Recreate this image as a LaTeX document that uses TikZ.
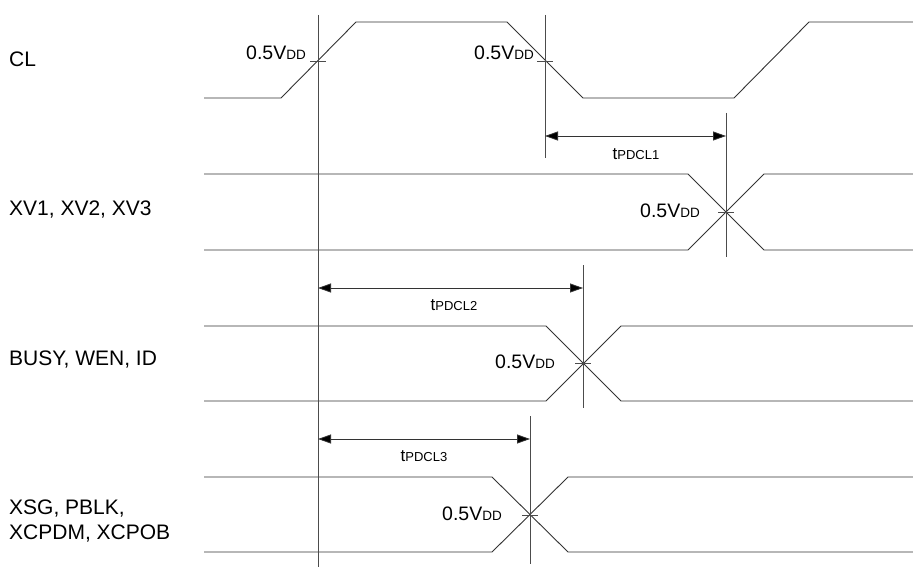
\documentclass[tikz,border=0pt]{standalone}
\usepackage{fontspec}
\setmainfont{Liberation Sans}
\usetikzlibrary{arrows.meta}
\tikzset{
  wave/.style={line width=0.9pt, draw=black!80},
  guide/.style={line width=0.9pt, draw=black!70},
  tick/.style={line width=0.8pt, draw=black!70},
  dim/.style={line width=0.8pt, draw=black!80, {Triangle[length=13pt,width=9pt,fill=black]}-{Triangle[length=13pt,width=9pt,fill=black]}},
  sig/.style={anchor=west, inner sep=0pt, font=\fontsize{21}{25}\selectfont, align=left},
  lvl/.style={anchor=east, inner sep=0pt, font=\fontsize{19.5}{22}\selectfont},
  tlab/.style={inner sep=0pt, font=\fontsize{17}{20}\selectfont},
}
\newcommand{\vdd}{0.5V{\fontsize{13.5}{15}\selectfont DD}}
\newcommand{\tpd}[1]{t{\fontsize{13}{15}\selectfont PDCL#1}}
\begin{document}
\begin{tikzpicture}[x=1pt,y=-1pt]
\useasboundingbox (0,0) rectangle (913,567);
% signal names
\node[sig] (nCL) at (9,59) {CL};
\node[sig] (nXV) at (9,210) {XV1, XV2, XV3};
\node[sig] (nBU) at (9,360) {BUSY, WEN, ID};
\node[sig] (nXS) at (9,521) {XSG, PBLK,\\XCPDM, XCPOB};
% CL waveform
\draw[wave] (204,98) -- (281,98) -- (356,22) -- (507,22) -- (583,98) -- (734,98) -- (809,22) -- (913,22);
% XV waveform
\draw[wave] (204,174) -- (688,174) -- (764,250) -- (913,250);
\draw[wave] (204,250) -- (688,250) -- (764,174) -- (913,174);
% BUSY waveform
\draw[wave] (204,326) -- (546,326) -- (621,401) -- (913,401);
\draw[wave] (204,401) -- (546,401) -- (621,326) -- (913,326);
% XSG waveform
\draw[wave] (204,477) -- (492,477) -- (568,552) -- (913,552);
\draw[wave] (204,552) -- (492,552) -- (568,477) -- (913,477);
% crossing points
\coordinate (c1) at (318,61);
\coordinate (c2) at (545,61);
\coordinate (c3) at (726,212);
\coordinate (c4) at (583,363);
\coordinate (c5) at (530,515);
% guide lines
\coordinate (g1t) at (318,15); \coordinate (g1b) at (318,567);
\coordinate (g2t) at (545,15); \coordinate (g2b) at (545,158);
\coordinate (g3t) at (726,113); \coordinate (g3b) at (726,257);
\coordinate (g4t) at (583,265); \coordinate (g4b) at (583,408);
\coordinate (g5t) at (530,416); \coordinate (g5b) at (530,564);
\draw[guide] (g1t) -- (g1b);
\draw[guide] (g2t) -- (g2b);
\draw[guide] (g3t) -- (g3b);
\draw[guide] (g4t) -- (g4b);
\draw[guide] (g5t) -- (g5b);
% ticks
\foreach \c in {c1,c2,c3,c4,c5}{\draw[tick] ([xshift=-8pt]\c) -- ([xshift=8pt]\c);}
% level labels
\node[lvl] (v1) at (306,53) {\vdd};
\node[lvl] (v2) at (534,53) {\vdd};
\node[lvl] (v3) at (700,211) {\vdd};
\node[lvl] (v4) at (555,362) {\vdd};
\node[lvl] (v5) at (502,514) {\vdd};
% dimension arrows
\coordinate (a1l) at (545,136); \coordinate (a1r) at (726,136);
\coordinate (a2l) at (318,288); \coordinate (a2r) at (583,288);
\coordinate (a3l) at (318,439); \coordinate (a3r) at (530,439);
\draw[dim] (a1l) -- (a1r);
\draw[dim] (a2l) -- (a2r);
\draw[dim] (a3l) -- (a3r);
\node[tlab] (t1) at (636,154) {\tpd{1}};
\node[tlab] (t2) at (454,305) {\tpd{2}};
\node[tlab] (t3) at (424,456) {\tpd{3}};
\end{tikzpicture}
\end{document}
